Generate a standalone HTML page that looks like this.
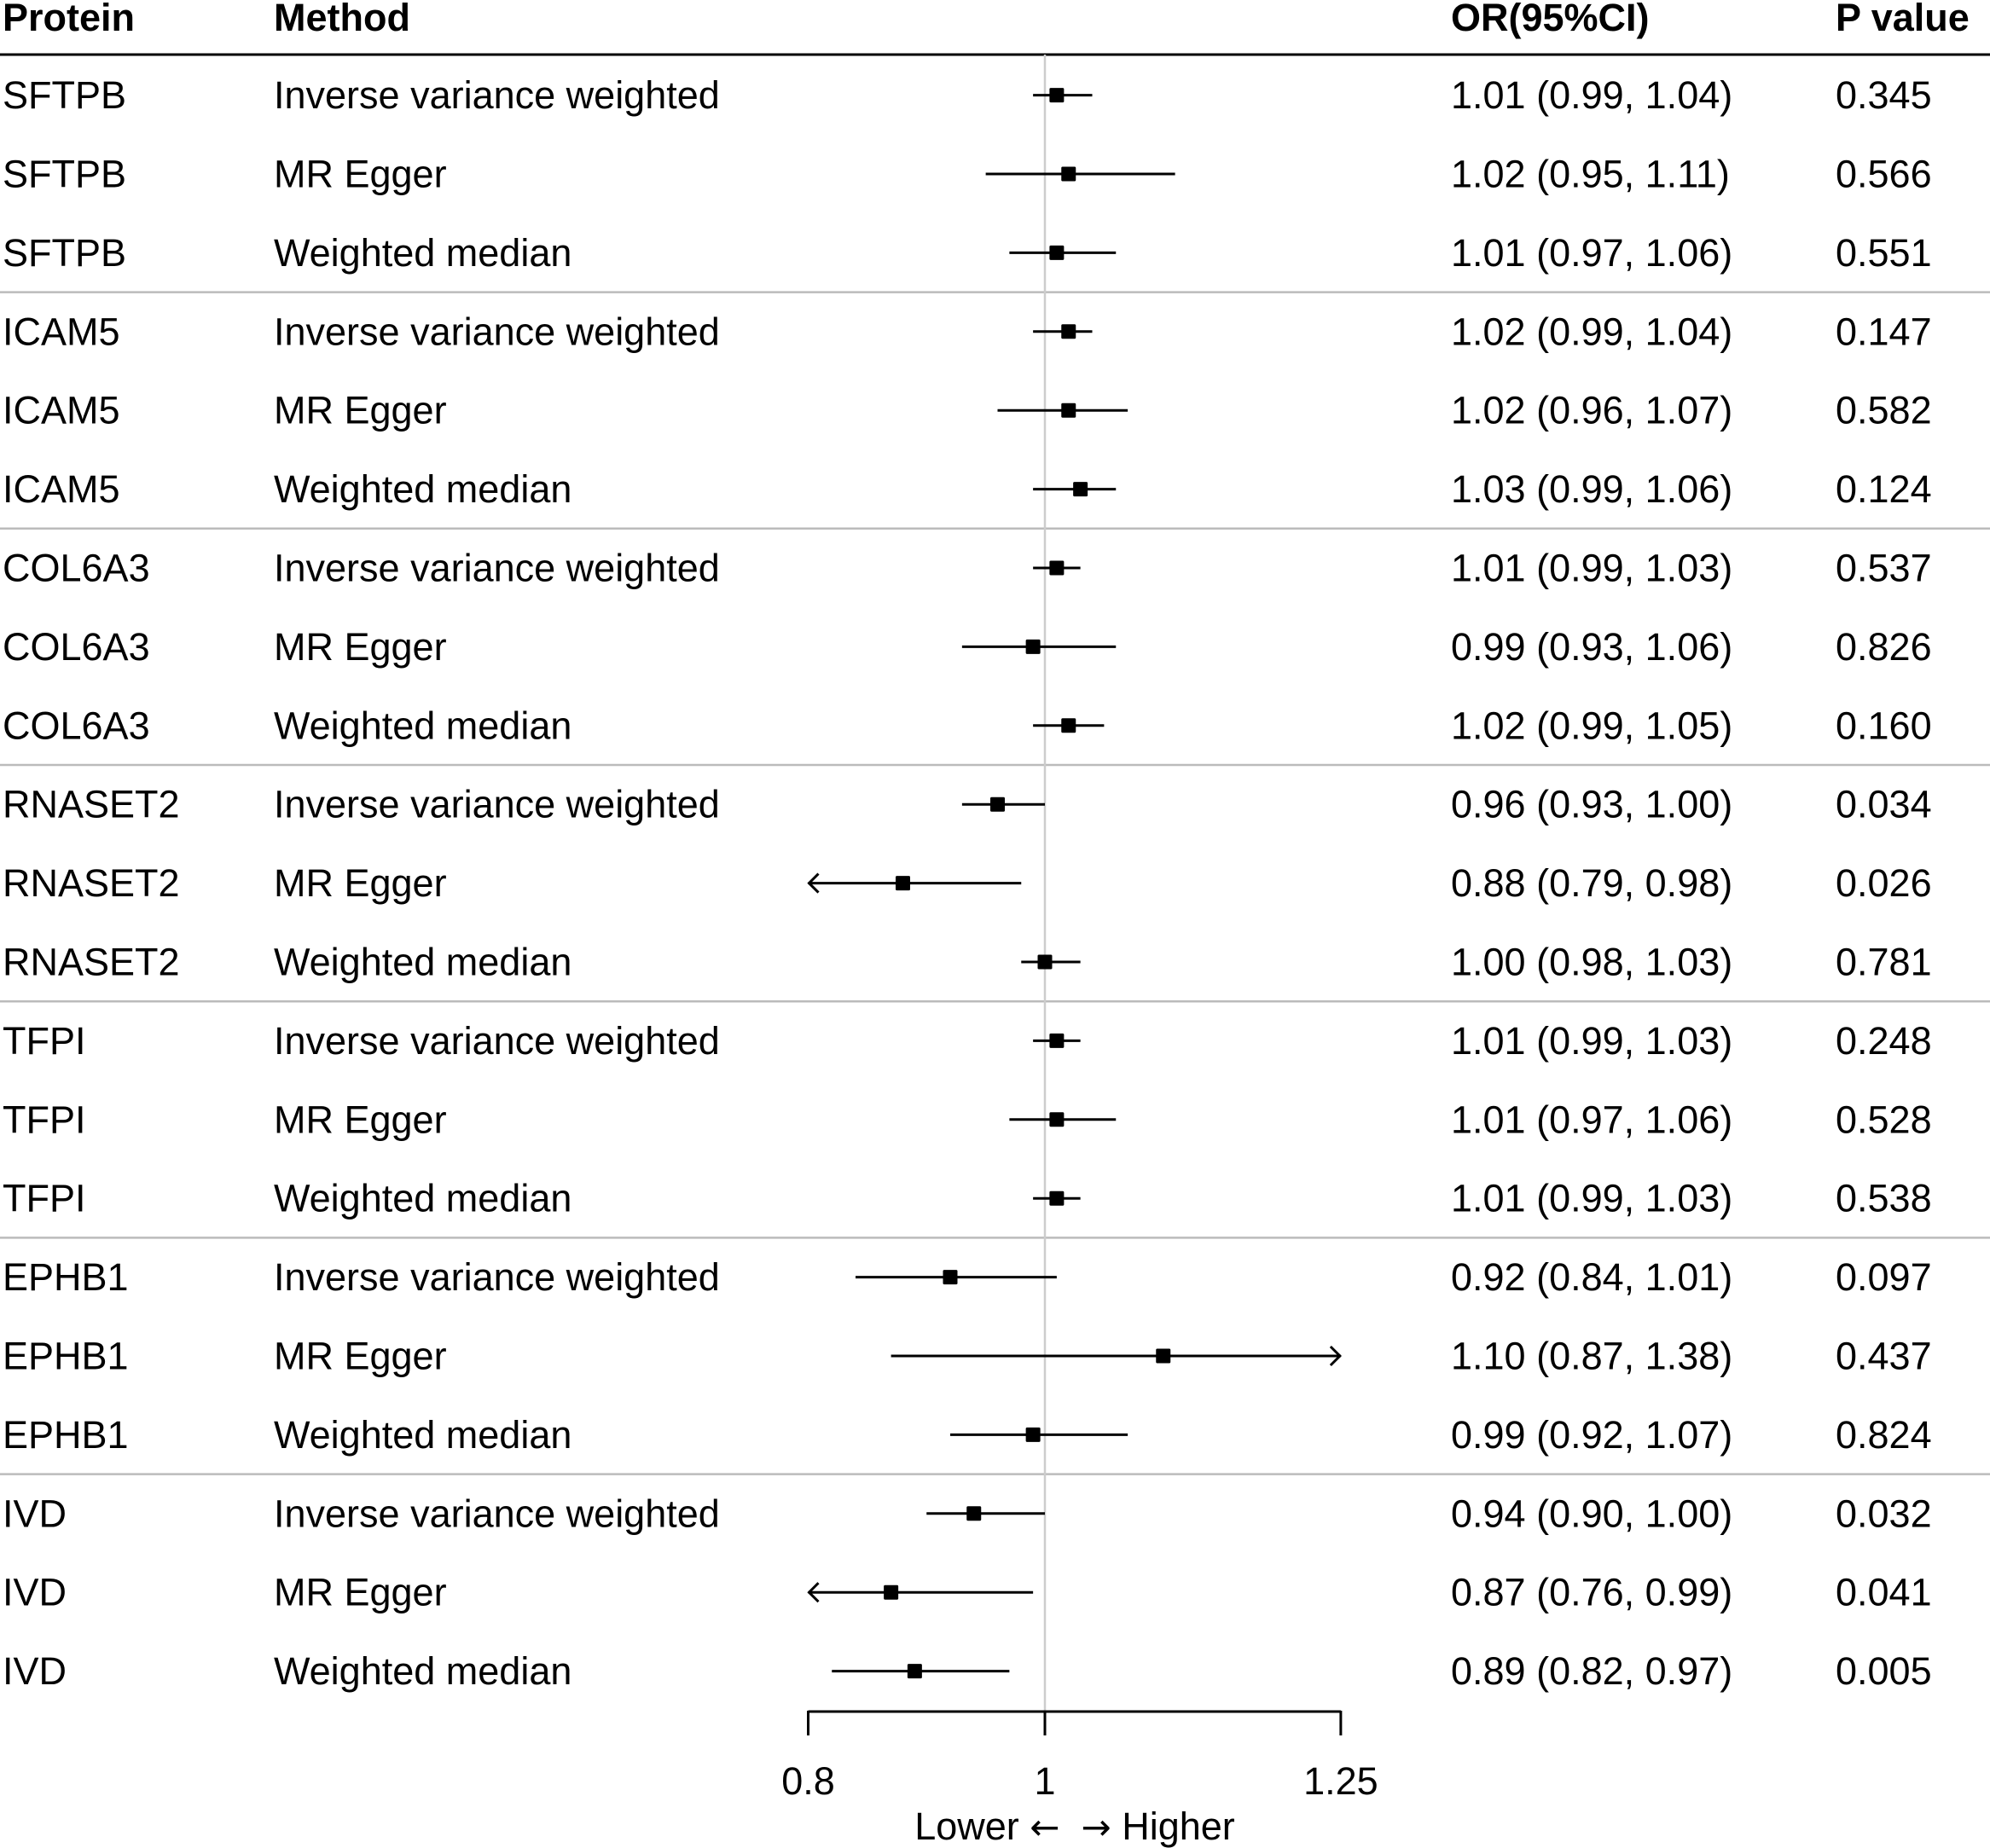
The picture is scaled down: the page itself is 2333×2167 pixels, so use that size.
<!DOCTYPE html>
<html><head><meta charset="utf-8"><style>
html,body{margin:0;padding:0;background:#fff}
svg{display:block}
text{font-family:"Liberation Sans",Arial,sans-serif;font-size:45px;fill:#000}
</style></head><body>
<svg id="chart" width="2333" height="2167" viewBox="0 0 2333 2167" xmlns="http://www.w3.org/2000/svg">
<g id="header">
<text x="3" y="36" font-weight="bold">Protein</text>
<text x="321" y="36" font-weight="bold">Method</text>
<text x="1701" y="36" font-weight="bold">OR(95%CI)</text>
<text x="2152" y="36" font-weight="bold">P value</text>
</g>
<line x1="0" x2="2333" y1="64" y2="64" stroke="#000" stroke-width="3"/>
<g id="seps"></g>
<line id="refline" x1="1225" x2="1225" y1="64" y2="2007" stroke="#cccccc" stroke-width="2.5"/>
<g id="rows"></g>
<g id="marks"></g>
<g id="axis"></g>
<text x="1260" y="2157" text-anchor="middle">Lower <tspan font-family="DejaVu Sans" font-size="42">←</tspan>&#160;&#160;<tspan font-family="DejaVu Sans" font-size="42">→</tspan> Higher</text>
</svg>
<script>
const proteins = ["SFTPB","SFTPB","SFTPB","ICAM5","ICAM5","ICAM5","COL6A3","COL6A3","COL6A3","RNASET2","RNASET2","RNASET2","TFPI","TFPI","TFPI","EPHB1","EPHB1","EPHB1","IVD","IVD","IVD"];
const methods = ["Inverse variance weighted","MR Egger","Weighted median"];
const orValues = [1.01,1.02,1.01,1.02,1.02,1.03,1.01,0.99,1.02,0.96,0.88,1.00,1.01,1.01,1.01,0.92,1.10,0.99,0.94,0.87,0.89];
const lowerCI = [0.99,0.95,0.97,0.99,0.96,0.99,0.99,0.93,0.99,0.93,0.79,0.98,0.99,0.97,0.99,0.84,0.87,0.92,0.90,0.76,0.82];
const upperCI = [1.04,1.11,1.06,1.04,1.07,1.06,1.03,1.06,1.05,1.00,0.98,1.03,1.03,1.06,1.03,1.01,1.38,1.07,1.00,0.99,0.97];
const pValues = ["0.345","0.566","0.551","0.147","0.582","0.124","0.537","0.826","0.160","0.034","0.026","0.781","0.248","0.528","0.538","0.097","0.437","0.824","0.032","0.041","0.005"];
const tickValues = [0.8,1,1.25];
const tickLabels = ["0.8","1","1.25"];
const xMin = 0.8, xMax = 1.25;

const NS = "http://www.w3.org/2000/svg";
function xs(v){ return 1225 + (v - 1) * 1387.5; }
function ys(i){ return 111.6 + i * 92.4; }
function mk(tag, attrs, parent){
  const e = document.createElementNS(NS, tag);
  for (const k in attrs) e.setAttribute(k, attrs[k]);
  parent.appendChild(e); return e;
}
const fmt = v => v.toFixed(2);
const rows = document.getElementById('rows');
const marks = document.getElementById('marks');
const seps = document.getElementById('seps');

for (let i = 0; i < proteins.length; i++) {
  const y = ys(i), base = y + 15.5;
  let t = mk('text', {x:3, y:base}, rows); t.textContent = proteins[i];
  
  
  t = mk('text', {x:321, y:base}, rows); t.textContent = methods[i % 3];
  
  
  t = mk('text', {x:1701, y:base}, rows);
  t.textContent = fmt(orValues[i]) + " (" + fmt(lowerCI[i]) + ", " + fmt(upperCI[i]) + ")";
  
  
  t = mk('text', {x:2152, y:base}, rows); t.textContent = pValues[i];
  
  

  const lo = Math.max(lowerCI[i], xMin), hi = Math.min(upperCI[i], xMax);
  const g = mk('g', {}, marks);
  
  
  const ln = mk('line', {x1:xs(lo), x2:xs(hi), y1:y, y2:y, stroke:'#000','stroke-width':3}, g);
  
  
  if (lowerCI[i] < xMin) {
    const a = mk('polyline', {points:`${xs(xMin)+12},${y-11} ${xs(xMin)+1},${y} ${xs(xMin)+12},${y+11}`, fill:'none', stroke:'#000','stroke-width':3}, g);
    
    
  }
  if (upperCI[i] > xMax) {
    const a = mk('polyline', {points:`${xs(xMax)-12},${y-11} ${xs(xMax)-1},${y} ${xs(xMax)-12},${y+11}`, fill:'none', stroke:'#000','stroke-width':3}, g);
    
    
  }
  const sq = mk('rect', {x:xs(orValues[i])-8.5, y:y-8.5, width:17, height:17, rx:1.5, fill:'#000'}, g);
  
  

  if (i % 3 === 2 && i < proteins.length - 1) {
    const sy = (ys(i) + ys(i+1)) / 2;
    const s = mk('line', {x1:0, x2:2333, y1:sy, y2:sy, stroke:'#bbbbbb','stroke-width':2.5}, seps);
    
    
  }
}

const axis = document.getElementById('axis');
const al = mk('line', {x1:xs(xMin), x2:xs(xMax), y1:2007, y2:2007, stroke:'#000','stroke-width':3}, axis);


tickValues.forEach((v, k) => {
  const tk = mk('line', {x1:xs(v), x2:xs(v), y1:2006, y2:2035, stroke:'#000','stroke-width':3}, axis);
  
  
  const tl = mk('text', {x:xs(v), y:2104, 'text-anchor':'middle'}, axis);
  tl.textContent = tickLabels[k];
  
  
});
</script>
</body></html>
